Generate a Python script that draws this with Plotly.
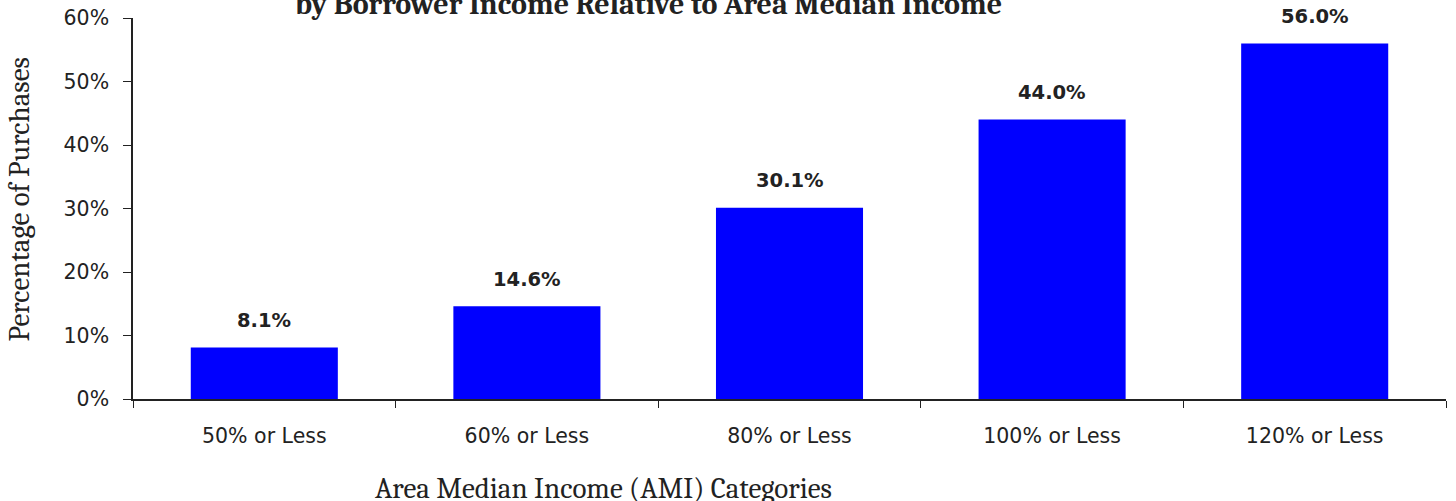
import plotly.graph_objects as go

categories = ["50% or Less", "60% or Less", "80% or Less", "100% or Less", "120% or Less"]
shares = [8.1, 14.6, 30.1, 44.0, 56.0]
y_ticks = [0, 10, 20, 30, 40, 50, 60]
y_tick_labels = [f"{t}%" for t in y_ticks]

title_text = "by Borrower Income Relative to Area Median Income"
x_title = "Area Median Income (AMI) Categories"
y_title = "Percentage of Purchases"

serif = "Cambria, Caladea, 'DejaVu Serif', serif"
sans = "Tahoma, 'DejaVu Sans', sans-serif"

fig = go.Figure(go.Bar(
    x=categories,
    y=shares,
    marker=dict(color="#0000FF", line=dict(width=0)),
))

# value labels above each bar
for c, v in zip(categories, shares):
    fig.add_annotation(x=c, y=v, text=f"<b>{v:.1f}%</b>", showarrow=False,
                       yshift=27, font=dict(family=sans, size=19.5, color="#222"))

# plot area spans 133..1446 px horizontally
fig.add_annotation(text=f"<b>{title_text}</b>", xref="paper", yref="paper",
                   x=(648 - 133) / 1313, y=1.0, yshift=14, showarrow=False,
                   xanchor="center", yanchor="middle",
                   font=dict(family=serif, size=30, color="#222"))
fig.add_annotation(text=x_title, xref="paper", yref="paper",
                   x=(603 - 133) / 1313, y=0, yshift=-89, showarrow=False,
                   xanchor="center", yanchor="middle",
                   font=dict(family=serif, size=29, color="#222"))
fig.add_annotation(text=y_title, xref="paper", yref="paper",
                   x=0, xshift=-114, y=0.5, yshift=9, showarrow=False, textangle=-90,
                   xanchor="center", yanchor="middle",
                   font=dict(family=serif, size=29, color="#222"))

fig.update_layout(
    width=1456, height=501,
    margin=dict(l=133, r=10, t=18, b=102),
    plot_bgcolor="white", paper_bgcolor="white",
    bargap=0.44,
    showlegend=False,
)
fig.update_xaxes(
    automargin=False,
    showline=True, linecolor="#222", linewidth=1.5,
    ticks="outside", tickson="boundaries", ticklen=7, tickcolor="#222",
    ticklabelstandoff=18,
    tickfont=dict(family=sans, size=20.5, color="#222"),
    showgrid=False,
)
fig.update_yaxes(
    automargin=False,
    range=[0, 60], tickvals=y_ticks, ticktext=y_tick_labels,
    showline=True, linecolor="#222", linewidth=1.5,
    ticks="outside", ticklen=8, tickcolor="#222",
    ticklabelstandoff=10, ticklabeloverflow="allow",
    tickfont=dict(family=sans, size=20.5, color="#222"),
    showgrid=False, zeroline=False,
)

# drop the page's default body margin so the chart fills the window exactly
fig.write_html("out.html", config={"displayModeBar": False},
               post_script="document.body.style.margin='0';")
